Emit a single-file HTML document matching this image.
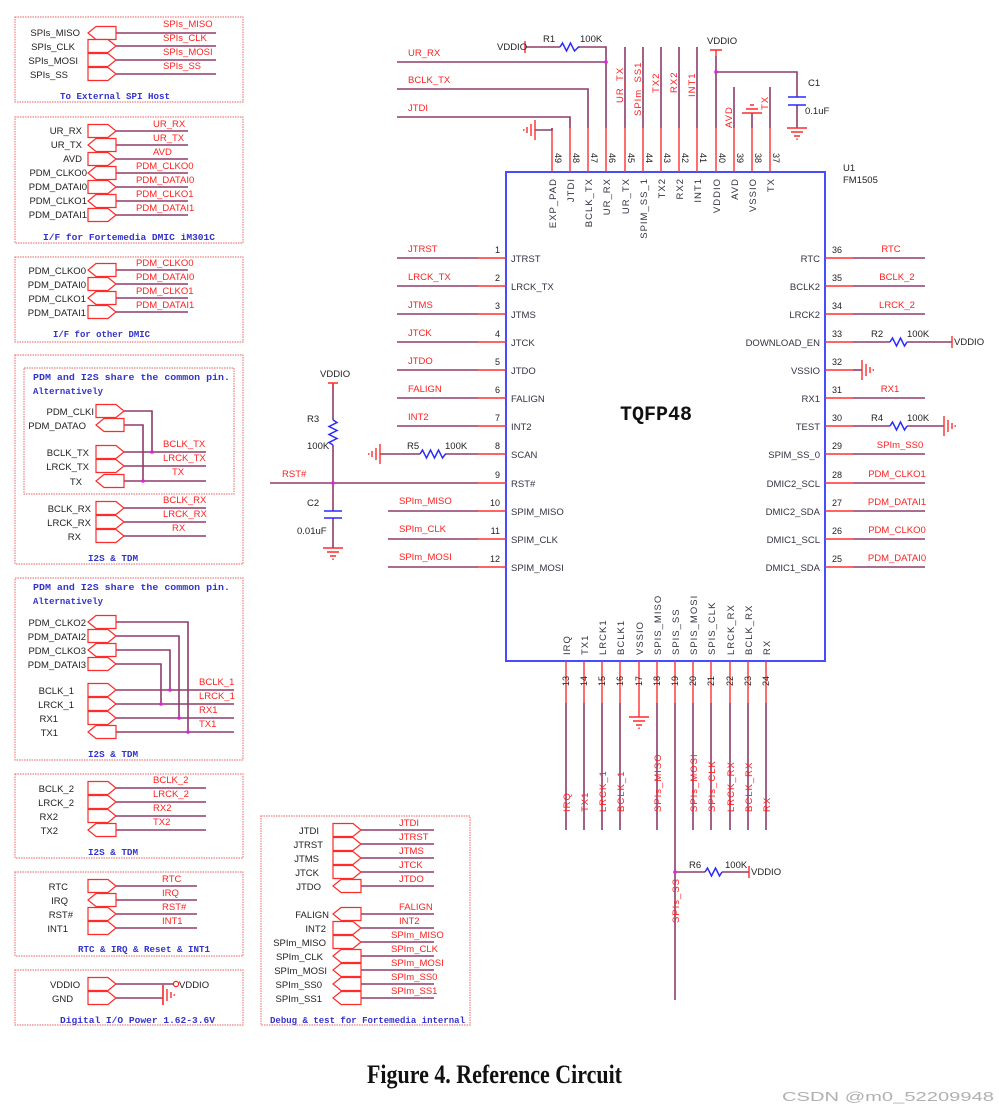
<!DOCTYPE html>
<html><head><meta charset="utf-8"><style>
html,body{margin:0;padding:0;background:#fff}
svg{display:block}
.b{fill:none;stroke:#f08080;stroke-width:1.2;stroke-dasharray:1.5 1}
.w{stroke:#8e3b6a;stroke-width:1.6;fill:none}
.p{stroke:#ff3030;stroke-width:1.4;fill:none}
.pt{fill:#fff;stroke:#ff2a2a;stroke-width:1.2}
.k{font:9.5px "Liberation Sans",sans-serif;fill:#222}
.r{font:9.5px "Liberation Sans",sans-serif;fill:#ff2020}
.t{font:bold 9.5px "Liberation Mono",monospace;fill:#3333cc}
.n{font:9px "Liberation Sans",sans-serif;fill:#222}
.z{stroke:#2a2aff;stroke-width:1.5;fill:none}
.g{stroke:#ff2a2a;stroke-width:1.4;fill:none}
.c{fill:#334}
</style></head><body>
<svg width="999" height="1113" viewBox="0 0 999 1113" xmlns="http://www.w3.org/2000/svg">
<defs>
<polygon id="pr" class="pt" points="0,-6.5 20,-6.5 28,0 20,6.5 0,6.5"/>
<polygon id="pl" class="pt" points="8,-6.5 28,-6.5 28,6.5 8,6.5 0,0"/>
<g id="gd" class="g"><path d="M-10,0H10M-6,4H6M-3,8H3M0,10.5V12"/></g>
<g id="gl" class="g"><path d="M0,-10V10M-4,-6V6M-8,-3V3M-10.5,0H-12"/></g>
<g id="gr" class="g"><path d="M0,-10V10M4,-6V6M8,-3V3M10.5,0H12"/></g>
</defs>

<!-- Panel 1 -->
<rect class="b" x="15" y="17" width="228" height="85"/>
<g class="w"><path d="M116,33H216M116,46H216M116,60H216M116,74H216"/></g>
<use href="#pl" x="88" y="33"/><use href="#pr" x="88" y="46"/><use href="#pr" x="88" y="60"/><use href="#pr" x="88" y="74"/>
<g class="k" text-anchor="end"><text x="80" y="36">SPIs_MISO</text><text x="75" y="50">SPIs_CLK</text><text x="78" y="64">SPIs_MOSI</text><text x="68" y="78">SPIs_SS</text></g>
<g class="r"><text x="163" y="27">SPIs_MISO</text><text x="163" y="41">SPIs_CLK</text><text x="163" y="55">SPIs_MOSI</text><text x="163" y="69">SPIs_SS</text></g>
<text class="t" x="60" y="99" textLength="110" lengthAdjust="spacingAndGlyphs">To External SPI Host</text>

<!-- Panel 2 -->
<rect class="b" x="15" y="117" width="228" height="126"/>
<g class="w"><path d="M116,131H188M116,145H188M116,159H188M116,173H188M116,187H188M116,201H188M116,215H188"/></g>
<use href="#pr" x="88" y="131"/><use href="#pl" x="88" y="145"/><use href="#pr" x="88" y="159"/><use href="#pl" x="88" y="173"/><use href="#pr" x="88" y="187"/><use href="#pl" x="88" y="201"/><use href="#pr" x="88" y="215"/>
<g class="k" text-anchor="end"><text x="82" y="134">UR_RX</text><text x="82" y="148">UR_TX</text><text x="82" y="162">AVD</text><text x="87" y="176">PDM_CLKO0</text><text x="87" y="190">PDM_DATAI0</text><text x="87" y="204">PDM_CLKO1</text><text x="87" y="218">PDM_DATAI1</text></g>
<g class="r"><text x="153" y="127">UR_RX</text><text x="153" y="141">UR_TX</text><text x="153" y="155">AVD</text><text x="136" y="169">PDM_CLKO0</text><text x="136" y="183">PDM_DATAI0</text><text x="136" y="197">PDM_CLKO1</text><text x="136" y="211">PDM_DATAI1</text></g>
<text class="t" x="43" y="240" textLength="172" lengthAdjust="spacingAndGlyphs">I/F for Fortemedia DMIC iM301C</text>

<!-- Panel 3 -->
<rect class="b" x="15" y="257" width="228" height="85"/>
<g class="w"><path d="M116,270H188M116,284H188M116,298H188M116,312H188"/></g>
<use href="#pl" x="88" y="270"/><use href="#pr" x="88" y="284"/><use href="#pl" x="88" y="298"/><use href="#pr" x="88" y="312"/>
<g class="k" text-anchor="end"><text x="86" y="274">PDM_CLKO0</text><text x="86" y="288">PDM_DATAI0</text><text x="86" y="302">PDM_CLKO1</text><text x="86" y="316">PDM_DATAI1</text></g>
<g class="r"><text x="136" y="266">PDM_CLKO0</text><text x="136" y="280">PDM_DATAI0</text><text x="136" y="294">PDM_CLKO1</text><text x="136" y="308">PDM_DATAI1</text></g>
<text class="t" x="53" y="337" textLength="97" lengthAdjust="spacingAndGlyphs">I/F for other DMIC</text>

<!-- Panel 4 -->
<rect class="b" x="15" y="355" width="228" height="209"/>
<rect class="b" x="24" y="368" width="210" height="126"/>
<text class="t" x="33" y="380" textLength="197" lengthAdjust="spacingAndGlyphs">PDM and I2S share the common pin.</text>
<text class="t" x="33" y="394" textLength="70" lengthAdjust="spacingAndGlyphs">Alternatively</text>
<g class="w"><path d="M124,411H152V452M124,425H143V481M124,452H206M124,466H206M124,481H206M124,508H206M124,522H206M124,536H206"/></g>
<circle cx="152" cy="452" r="1.8" fill="#e020e0"/><circle cx="143" cy="481" r="1.8" fill="#e020e0"/>
<use href="#pr" x="96" y="411"/><use href="#pl" x="96" y="425"/><use href="#pr" x="96" y="452"/><use href="#pr" x="96" y="466"/><use href="#pl" x="96" y="481"/><use href="#pr" x="96" y="508"/><use href="#pr" x="96" y="522"/><use href="#pr" x="96" y="536"/>
<g class="k" text-anchor="end"><text x="94" y="415">PDM_CLKI</text><text x="86" y="429">PDM_DATAO</text><text x="89" y="456">BCLK_TX</text><text x="89" y="470">LRCK_TX</text><text x="82" y="485">TX</text><text x="91" y="512">BCLK_RX</text><text x="91" y="526">LRCK_RX</text><text x="81" y="540">RX</text></g>
<g class="r"><text x="163" y="447">BCLK_TX</text><text x="163" y="461">LRCK_TX</text><text x="172" y="475">TX</text><text x="163" y="503">BCLK_RX</text><text x="163" y="517">LRCK_RX</text><text x="172" y="531">RX</text></g>
<text class="t" x="88" y="561" textLength="50" lengthAdjust="spacingAndGlyphs">I2S &amp; TDM</text>

<!-- Panel 5 -->
<rect class="b" x="15" y="578" width="228" height="182"/>
<text class="t" x="33" y="590" textLength="197" lengthAdjust="spacingAndGlyphs">PDM and I2S share the common pin.</text>
<text class="t" x="33" y="604" textLength="70" lengthAdjust="spacingAndGlyphs">Alternatively</text>
<g class="w"><path d="M116,622H188V732M116,636H179V718M116,650H170V690M116,664H161V704M116,690H234M116,704H234M116,718H234M116,732H234"/></g>
<g fill="#e020e0"><circle cx="170" cy="690" r="1.8"/><circle cx="161" cy="704" r="1.8"/><circle cx="179" cy="718" r="1.8"/><circle cx="188" cy="732" r="1.8"/></g>
<use href="#pl" x="88" y="622"/><use href="#pr" x="88" y="636"/><use href="#pl" x="88" y="650"/><use href="#pr" x="88" y="664"/><use href="#pr" x="88" y="690"/><use href="#pr" x="88" y="704"/><use href="#pr" x="88" y="718"/><use href="#pl" x="88" y="732"/>
<g class="k" text-anchor="end"><text x="86" y="626">PDM_CLKO2</text><text x="86" y="640">PDM_DATAI2</text><text x="86" y="654">PDM_CLKO3</text><text x="86" y="668">PDM_DATAI3</text><text x="74" y="694">BCLK_1</text><text x="74" y="708">LRCK_1</text><text x="58" y="722">RX1</text><text x="58" y="736">TX1</text></g>
<g class="r"><text x="199" y="685">BCLK_1</text><text x="199" y="699">LRCK_1</text><text x="199" y="713">RX1</text><text x="199" y="727">TX1</text></g>
<text class="t" x="88" y="757" textLength="50" lengthAdjust="spacingAndGlyphs">I2S &amp; TDM</text>

<!-- Panel 6 -->
<rect class="b" x="15" y="774" width="228" height="84"/>
<g class="w"><path d="M116,788H206M116,802H206M116,816H206M116,830H206"/></g>
<use href="#pr" x="88" y="788"/><use href="#pr" x="88" y="802"/><use href="#pr" x="88" y="816"/><use href="#pl" x="88" y="830"/>
<g class="k" text-anchor="end"><text x="74" y="792">BCLK_2</text><text x="74" y="806">LRCK_2</text><text x="58" y="820">RX2</text><text x="58" y="834">TX2</text></g>
<g class="r"><text x="153" y="783">BCLK_2</text><text x="153" y="797">LRCK_2</text><text x="153" y="811">RX2</text><text x="153" y="825">TX2</text></g>
<text class="t" x="88" y="855" textLength="50" lengthAdjust="spacingAndGlyphs">I2S &amp; TDM</text>

<!-- Panel 7 -->
<rect class="b" x="15" y="872" width="228" height="84"/>
<g class="w"><path d="M116,886H197M116,900H197M116,914H197M116,928H197"/></g>
<use href="#pr" x="88" y="886"/><use href="#pl" x="88" y="900"/><use href="#pr" x="88" y="914"/><use href="#pr" x="88" y="928"/>
<g class="k" text-anchor="end"><text x="68" y="890">RTC</text><text x="68" y="904">IRQ</text><text x="73" y="918">RST#</text><text x="68" y="932">INT1</text></g>
<g class="r"><text x="162" y="882">RTC</text><text x="162" y="896">IRQ</text><text x="162" y="910">RST#</text><text x="162" y="924">INT1</text></g>
<text class="t" x="78" y="952" textLength="132" lengthAdjust="spacingAndGlyphs">RTC &amp; IRQ &amp; Reset &amp; INT1</text>

<!-- Panel 8 -->
<rect class="b" x="15" y="970" width="228" height="55"/>
<g class="w"><path d="M116,984H173M116,998H163"/></g>
<circle cx="176" cy="984" r="2.6" fill="none" stroke="#ff2020" stroke-width="1.2"/>
<use href="#gr" x="163" y="995"/>
<path class="g" d="M163,985V1005"/>
<use href="#pr" x="88" y="984"/><use href="#pr" x="88" y="998"/>
<g class="k"><text x="50" y="988">VDDIO</text><text x="52" y="1002">GND</text><text x="179" y="988">VDDIO</text></g>
<text class="t" x="60" y="1023" textLength="155" lengthAdjust="spacingAndGlyphs">Digital I/O Power 1.62-3.6V</text>

<!-- Panel 9 debug -->
<rect class="b" x="261" y="816" width="209" height="209"/>
<g class="w"><path d="M361,830H434M361,844H434M361,858H434M361,872H434M361,886H434M361,914H434M361,928H434M361,942H434M361,956H434M361,970H434M361,984H434M361,998H434"/></g>
<use href="#pr" x="333" y="830"/><use href="#pr" x="333" y="844"/><use href="#pr" x="333" y="858"/><use href="#pr" x="333" y="872"/><use href="#pl" x="333" y="886"/><use href="#pl" x="333" y="914"/><use href="#pr" x="333" y="928"/><use href="#pr" x="333" y="942"/><use href="#pl" x="333" y="956"/><use href="#pl" x="333" y="970"/><use href="#pl" x="333" y="984"/><use href="#pl" x="333" y="998"/>
<g class="k" text-anchor="end"><text x="319" y="834">JTDI</text><text x="323" y="848">JTRST</text><text x="319" y="862">JTMS</text><text x="319" y="876">JTCK</text><text x="321" y="890">JTDO</text><text x="329" y="918">FALIGN</text><text x="326" y="932">INT2</text><text x="326" y="946">SPIm_MISO</text><text x="323" y="960">SPIm_CLK</text><text x="327" y="974">SPIm_MOSI</text><text x="322" y="988">SPIm_SS0</text><text x="322" y="1002">SPIm_SS1</text></g>
<g class="r"><text x="399" y="826">JTDI</text><text x="399" y="840">JTRST</text><text x="399" y="854">JTMS</text><text x="399" y="868">JTCK</text><text x="399" y="882">JTDO</text><text x="399" y="910">FALIGN</text><text x="399" y="924">INT2</text><text x="391" y="938">SPIm_MISO</text><text x="391" y="952">SPIm_CLK</text><text x="391" y="966">SPIm_MOSI</text><text x="391" y="980">SPIm_SS0</text><text x="391" y="994">SPIm_SS1</text></g>
<text class="t" x="270" y="1023" textLength="195" lengthAdjust="spacingAndGlyphs">Debug &amp; test for Fortemedia internal</text>

<!-- CHIP -->
<rect x="506" y="172" width="319" height="489" fill="none" stroke="#4a4aff" stroke-width="2"/>
<text x="620" y="420" font-family="Liberation Mono,monospace" font-weight="bold" font-size="20" fill="#111">TQFP48</text>
<text class="k" x="843" y="171">U1</text><text class="k" x="843" y="183" font-size="8.5">FM1505</text>

<!-- left pins -->
<g class="w"><path d="M397,258H478M397,286H478M397,314H478M397,342H478M397,370H478M397,398H478M397,426H478M388,511H478M388,539H478M388,567H478M270,483H478M380,454H420M445,454H478"/></g>
<g class="p"><path d="M478,258H506M478,286H506M478,314H506M478,342H506M478,370H506M478,398H506M478,426H506M478,454H506M478,483H506M478,511H506M478,539H506M478,567H506"/></g>
<g class="n" text-anchor="end"><text x="500" y="253">1</text><text x="500" y="281">2</text><text x="500" y="309">3</text><text x="500" y="337">4</text><text x="500" y="365">5</text><text x="500" y="393">6</text><text x="500" y="421">7</text><text x="500" y="449">8</text><text x="500" y="478">9</text><text x="500" y="506">10</text><text x="500" y="534">11</text><text x="500" y="562">12</text></g>
<g class="k c"><text x="511" y="262">JTRST</text><text x="511" y="290">LRCK_TX</text><text x="511" y="318">JTMS</text><text x="511" y="346">JTCK</text><text x="511" y="374">JTDO</text><text x="511" y="402">FALIGN</text><text x="511" y="430">INT2</text><text x="511" y="458">SCAN</text><text x="511" y="487">RST#</text><text x="511" y="515">SPIM_MISO</text><text x="511" y="543">SPIM_CLK</text><text x="511" y="571">SPIM_MOSI</text></g>
<g class="r"><text x="408" y="252">JTRST</text><text x="408" y="280">LRCK_TX</text><text x="408" y="308">JTMS</text><text x="408" y="336">JTCK</text><text x="408" y="364">JTDO</text><text x="408" y="392">FALIGN</text><text x="408" y="420">INT2</text><text x="399" y="504">SPIm_MISO</text><text x="399" y="532">SPIm_CLK</text><text x="399" y="560">SPIm_MOSI</text><text x="282" y="477">RST#</text></g>
<use href="#gl" x="380" y="454"/>
<path class="z" d="M420,454l2.5,-4l4,8l4,-8l4,8l4,-8l4,8l3,-4"/>
<g class="k"><text x="407" y="449">R5</text><text x="445" y="449">100K</text></g>
<!-- R3 C2 -->
<path class="w" d="M333,384V420M333,445V511M333,518V548"/>
<path class="g" d="M328,383H338M333,383V388"/>
<path class="z" d="M333,420l4,2.5l-8,4l8,4l-8,4l8,4l-8,4l4,2.5"/>
<path class="z" d="M324,511H342M324,518H342"/>
<circle cx="333" cy="483" r="1.8" fill="#e020e0"/>
<use href="#gd" x="333" y="548"/>
<g class="k"><text x="320" y="377">VDDIO</text><text x="307" y="422">R3</text><text x="307" y="449">100K</text><text x="307" y="506">C2</text><text x="297" y="534">0.01uF</text></g>

<!-- right pins -->
<g class="p"><path d="M825,258H853M825,286H853M825,314H853M825,342H853M825,370H853M825,398H853M825,426H853M825,454H853M825,483H853M825,511H853M825,539H853M825,567H853"/></g>
<g class="w"><path d="M853,258H925M853,286H925M853,314H925M853,342H890M907,342H952M853,398H925M853,426H890M907,426H944M853,454H925M853,483H925M853,511H925M853,539H925M853,567H925"/></g>
<g class="n"><text x="832" y="253">36</text><text x="832" y="281">35</text><text x="832" y="309">34</text><text x="832" y="337">33</text><text x="832" y="365">32</text><text x="832" y="393">31</text><text x="832" y="421">30</text><text x="832" y="449">29</text><text x="832" y="478">28</text><text x="832" y="506">27</text><text x="832" y="534">26</text><text x="832" y="562">25</text></g>
<g class="k c" text-anchor="end"><text x="820" y="262">RTC</text><text x="820" y="290">BCLK2</text><text x="820" y="318">LRCK2</text><text x="820" y="346">DOWNLOAD_EN</text><text x="820" y="374">VSSIO</text><text x="820" y="402">RX1</text><text x="820" y="430">TEST</text><text x="820" y="458">SPIM_SS_0</text><text x="820" y="487">DMIC2_SCL</text><text x="820" y="515">DMIC2_SDA</text><text x="820" y="543">DMIC1_SCL</text><text x="820" y="571">DMIC1_SDA</text></g>
<g class="r" text-anchor="middle"><text x="891" y="252">RTC</text><text x="897" y="280">BCLK_2</text><text x="897" y="308">LRCK_2</text><text x="890" y="392">RX1</text><text x="900" y="448">SPIm_SS0</text><text x="897" y="477">PDM_CLKO1</text><text x="897" y="505">PDM_DATAI1</text><text x="897" y="533">PDM_CLKO0</text><text x="897" y="561">PDM_DATAI0</text></g>
<path class="z" d="M890,342l2.5,-4l4,8l4,-8l4,8l2.5,-4"/>
<path class="z" d="M890,426l2.5,-4l4,8l4,-8l4,8l2.5,-4"/>
<path class="g" d="M952,336V348"/>
<path class="w" d="M853,370H862"/>
<use href="#gr" x="862" y="370"/><use href="#gr" x="944" y="426"/>
<g class="k"><text x="871" y="337">R2</text><text x="907" y="337">100K</text><text x="954" y="345">VDDIO</text><text x="871" y="421">R4</text><text x="907" y="421">100K</text></g>

<!-- top pins -->
<g class="p"><path d="M552,128V172M570,128V172M588,128V172M606,128V172M625,128V172M643,128V172M661,128V172M679,128V172M697,128V172M716,128V172M734,128V172M752,128V172M770,128V172"/></g>
<g class="w"><path d="M552,128V130H535M570,128V117H397M588,128V89H397M606,128V47H580M560,47H526M397,62H606M625,128V47M643,128V47M661,128V47M679,128V47M697,128V47M716,128V56M716,72H797V97M797,105V128M734,128V87M752,128V113M770,128V87"/></g>
<circle cx="606" cy="62" r="1.8" fill="#e020e0"/><circle cx="716" cy="72" r="1.8" fill="#e020e0"/>
<path class="z" d="M560,47l2.5,-4l4,8l4,-8l4,8l4,-4l1.5,0"/>
<path class="g" d="M525,41V53M710,50H722M716,50V56"/>
<path class="z" d="M788,97H806M788,105H806"/>
<use href="#gl" x="535" y="130"/><use href="#gd" x="797" y="128"/>
<path class="g" d="M742,113H762M746,109H758M750,105H754"/>
<g class="k"><text x="497" y="50">VDDIO</text><text x="543" y="42">R1</text><text x="580" y="42">100K</text><text x="707" y="44">VDDIO</text><text x="808" y="86">C1</text><text x="805" y="114">0.1uF</text></g>
<g class="n" text-anchor="middle">
<text transform="translate(555,158) rotate(90)">49</text><text transform="translate(573,158) rotate(90)">48</text><text transform="translate(591,158) rotate(90)">47</text><text transform="translate(609,158) rotate(90)">46</text><text transform="translate(628,158) rotate(90)">45</text><text transform="translate(646,158) rotate(90)">44</text><text transform="translate(664,158) rotate(90)">43</text><text transform="translate(682,158) rotate(90)">42</text><text transform="translate(700,158) rotate(90)">41</text><text transform="translate(719,158) rotate(90)">40</text><text transform="translate(737,158) rotate(90)">39</text><text transform="translate(755,158) rotate(90)">38</text><text transform="translate(773,158) rotate(90)">37</text></g>
<g class="k c" text-anchor="end" letter-spacing="1">
<text transform="translate(556,178) rotate(-90)">EXP_PAD</text><text transform="translate(574,178) rotate(-90)">JTDI</text><text transform="translate(592,178) rotate(-90)">BCLK_TX</text><text transform="translate(610,178) rotate(-90)">UR_RX</text><text transform="translate(629,178) rotate(-90)">UR_TX</text><text transform="translate(647,178) rotate(-90)">SPIM_SS_1</text><text transform="translate(665,178) rotate(-90)">TX2</text><text transform="translate(683,178) rotate(-90)">RX2</text><text transform="translate(701,178) rotate(-90)">INT1</text><text transform="translate(720,178) rotate(-90)">VDDIO</text><text transform="translate(738,178) rotate(-90)">AVD</text><text transform="translate(756,178) rotate(-90)">VSSIO</text><text transform="translate(774,178) rotate(-90)">TX</text></g>
<g class="r" letter-spacing="1">
<text transform="translate(623,103) rotate(-90)">UR_TX</text><text transform="translate(641,116) rotate(-90)">SPIm_SS1</text><text transform="translate(659,93) rotate(-90)">TX2</text><text transform="translate(677,93) rotate(-90)">RX2</text><text transform="translate(695,97) rotate(-90)">INT1</text><text transform="translate(732,128) rotate(-90)">AVD</text><text transform="translate(768,110) rotate(-90)">TX</text></g>
<g class="r"><text x="408" y="56">UR_RX</text><text x="408" y="83">BCLK_TX</text><text x="408" y="111">JTDI</text></g>

<!-- bottom pins -->
<g class="p"><path d="M566,661V703M584,661V703M602,661V703M620,661V703M639,661V717M657,661V703M675,661V703M693,661V703M711,661V703M730,661V703M748,661V703M766,661V703"/></g>
<g class="w"><path d="M566,703V830M584,703V830M602,703V830M620,703V830M657,703V830M675,703V1000M693,703V830M711,703V830M730,703V830M748,703V830M766,703V830M675,872H705M722,872H749"/></g>
<use href="#gd" x="639" y="717"/>
<circle cx="675" cy="872" r="1.8" fill="#e020e0"/>
<path class="z" d="M705,872l2.5,-4l4,8l4,-8l4,8l2.5,-4"/>
<path class="g" d="M749,866V878"/>
<g class="k"><text x="689" y="868">R6</text><text x="725" y="868">100K</text><text x="751" y="875">VDDIO</text></g>
<g class="n" text-anchor="middle">
<text transform="translate(569,681) rotate(-90)">13</text><text transform="translate(587,681) rotate(-90)">14</text><text transform="translate(605,681) rotate(-90)">15</text><text transform="translate(623,681) rotate(-90)">16</text><text transform="translate(642,681) rotate(-90)">17</text><text transform="translate(660,681) rotate(-90)">18</text><text transform="translate(678,681) rotate(-90)">19</text><text transform="translate(696,681) rotate(-90)">20</text><text transform="translate(714,681) rotate(-90)">21</text><text transform="translate(733,681) rotate(-90)">22</text><text transform="translate(751,681) rotate(-90)">23</text><text transform="translate(769,681) rotate(-90)">24</text></g>
<g class="k c" letter-spacing="1">
<text transform="translate(570,655) rotate(-90)">IRQ</text><text transform="translate(588,655) rotate(-90)">TX1</text><text transform="translate(606,655) rotate(-90)">LRCK1</text><text transform="translate(624,655) rotate(-90)">BCLK1</text><text transform="translate(643,655) rotate(-90)">VSSIO</text><text transform="translate(661,655) rotate(-90)">SPIS_MISO</text><text transform="translate(679,655) rotate(-90)">SPIS_SS</text><text transform="translate(697,655) rotate(-90)">SPIS_MOSI</text><text transform="translate(715,655) rotate(-90)">SPIS_CLK</text><text transform="translate(734,655) rotate(-90)">LRCK_RX</text><text transform="translate(752,655) rotate(-90)">BCLK_RX</text><text transform="translate(770,655) rotate(-90)">RX</text></g>
<g class="r" letter-spacing="1">
<text transform="translate(570,812) rotate(-90)">IRQ</text><text transform="translate(588,812) rotate(-90)">TX1</text><text transform="translate(606,812) rotate(-90)">LRCK_1</text><text transform="translate(624,812) rotate(-90)">BCLK_1</text><text transform="translate(661,812) rotate(-90)">SPIs_MISO</text><text transform="translate(697,812) rotate(-90)">SPIs_MOSI</text><text transform="translate(715,812) rotate(-90)">SPIs_CLK</text><text transform="translate(734,812) rotate(-90)">LRCK_RX</text><text transform="translate(752,812) rotate(-90)">BCLK_RX</text><text transform="translate(770,812) rotate(-90)">RX</text><text transform="translate(679,923) rotate(-90)">SPIs_SS</text></g>

<!-- caption -->
<text x="367" y="1083" font-family="Liberation Serif,serif" font-weight="bold" font-size="26" textLength="255" lengthAdjust="spacingAndGlyphs" fill="#111">Figure 4. Reference Circuit</text>
<text x="782" y="1101" font-family="Liberation Sans,sans-serif" font-size="13" fill="#b0b0b0" textLength="212" lengthAdjust="spacingAndGlyphs">CSDN @m0_52209948</text>
</svg>
</body></html>
